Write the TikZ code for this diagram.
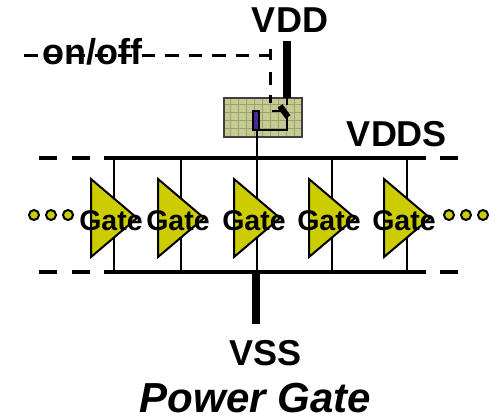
\documentclass[tikz,border=0pt]{standalone}
\usepackage{fontspec}
\setmainfont{Liberation Sans}
\definecolor{gateyellow}{HTML}{CCCC00}
\definecolor{boxolive}{HTML}{C6C993}
\definecolor{gridgreen}{HTML}{9AA468}
\definecolor{switchpurple}{HTML}{4B2A8C}
\tikzset{
  lbl/.style={inner sep=0pt,anchor=base,font=\fontsize{36}{36}\selectfont\bfseries},
  gatelbl/.style={inner sep=0pt,anchor=base,font=\fontsize{28.5}{30}\selectfont\bfseries},
  rail/.style={line width=4pt},
  tap/.style={line width=2.3pt},
  ctl/.style={line width=3pt},
  gatetri/.style={draw=black,line width=2pt,fill=gateyellow,line join=miter},
  dot/.style={circle,draw=black,line width=2pt,fill=gateyellow,minimum size=10pt,inner sep=0pt},
}
\begin{document}
\begin{tikzpicture}[x=1pt,y=-1pt]
\useasboundingbox (0,0) rectangle (499,420);
% rails
\coordinate (tl) at (114,158); \coordinate (tr) at (407,158);
\coordinate (bl) at (114,272); \coordinate (br) at (407,272);
\draw[rail] (tl) -- (tr);
\draw[rail] (bl) -- (br);
\foreach \a/\b in {39/57,72/90,104/114,407/426,440/458}{
  \draw[rail] (\a,158) -- (\b,158);
  \draw[rail] (\a,272) -- (\b,272);
}
% taps
\foreach \x in {114,181,257,332,407}{ \draw[tap] (\x,158) -- (\x,272); }
% VSS stub
\node[lbl] (vss) at (265.5,365) {VSS};
\coordinate (vsstop) at (256,272); \coordinate (vssbot) at (256,324);
\draw[line width=8pt] (vsstop) -- (vssbot);
% switch box
\fill[boxolive] (224,98) rectangle (302,137);
\foreach \x in {230,238,...,300}{ \draw[gridgreen,line width=.5pt] (\x,98) -- (\x,137); }
\foreach \y in {104,112,...,136}{ \draw[gridgreen,line width=.5pt] (224,\y) -- (302,\y); }
\draw[black!75,line width=1.3pt] (224,98) rectangle (302,137);
% VDD
\node[lbl] (vdd) at (290,33) {VDD};
\coordinate (vddtop) at (287,41); \coordinate (vddbot) at (287,98);
\draw[line width=7.5pt] (vddtop) -- (vddbot);
% switch
\coordinate (swa) at (287,98); \coordinate (swb) at (287,105);
\coordinate (swc) at (287,117); \coordinate (swd) at (257,130);
\draw[tap] (swa) -- (swb);
\draw[line width=6pt] (280,106) -- (288,117);
\draw[tap] (272,111) -- (283,111);
\draw[tap] (swc) -- (287,130) -- (swd);
\node[draw=black,line width=1.6pt,fill=switchpurple,minimum width=6pt,minimum height=19pt,inner sep=0pt] (sw) at (256,120.5) {};
\draw[tap] (257,130) -- (257,158);
% on/off dashed control
\node[lbl] (onoff) at (92.5,65) {on/off};
\coordinate (ca) at (24,56); \coordinate (cb) at (270,56); \coordinate (cc) at (270,103);
\draw[ctl,dash pattern=on 13.5pt off 10pt] (ca) -- (cb);
\draw[ctl] (270,49) -- (270,60);
\draw[ctl,dash pattern=on 13pt off 10pt] (270,72) -- (cc);
% gates
\foreach \l in {91,158,234,309,384}{
  \draw[gatetri] (\l,179) -- (\l+46,218) -- (\l,257) -- cycle;
}
\foreach \n/\c in {g1/111,g2/178,g3/254,g4/329,g5/404}{
  \node[gatelbl] (\n) at (\c,230) {Gate};
}
% dots
\foreach \n/\x in {a/34,b/51,c/68,d/449,e/466,f/483}{ \node[dot] (\n) at (\x,215) {}; }
% labels
\node[lbl] (vdds) at (397,146.5) {VDDS};
\node[inner sep=0pt,anchor=base,font=\fontsize{42}{42}\selectfont\bfseries\itshape] (title) at (255.5,412.5) {Power Gate};
\end{tikzpicture}
\end{document}
